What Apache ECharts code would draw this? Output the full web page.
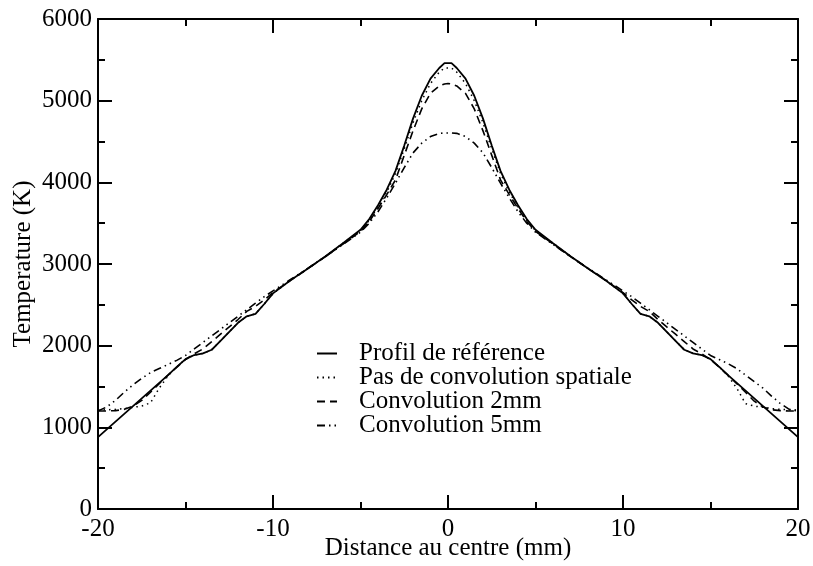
<!DOCTYPE html>
<html>
<head>
<meta charset="utf-8">
<script src="https://cdn.jsdelivr.net/npm/echarts@6/dist/echarts.min.js"></script>
<style>html,body{margin:0;padding:0;background:#fff}#c{width:813px;height:566px}</style>
</head>
<body>
<div id="c"></div>
<script>
var xs = [-20,-19.5,-19,-18.5,-18,-17.5,-17,-16.5,-16,-15.5,-15,-14.5,-14,-13.5,-13,-12.5,-12,-11.5,-11,-10.5,-10,-9,-8,-7,-6,-5,-4.5,-4,-3.5,-3,-2.5,-2,-1.5,-1,-0.5,-0.2,0,0.2,0.5,1,1.5,2,2.5,3,3.5,4,4.5,5,6,7,8,9,10,10.5,11,11.5,12,12.5,13,13.5,14,14.5,15,15.5,16,16.5,17,17.5,18,18.5,19,19.5,20];

var reference = [880,975,1070,1165,1260,1355,1450,1545,1640,1740,1835,1885,1905,1950,2060,2170,2280,2360,2390,2510,2640,2800,2945,3095,3255,3420,3550,3720,3910,4140,4450,4780,5060,5270,5400,5460,5460,5460,5400,5270,5060,4780,4450,4140,3910,3720,3550,3420,3255,3095,2945,2800,2640,2510,2390,2360,2280,2170,2060,1950,1905,1885,1835,1740,1640,1545,1450,1355,1260,1165,1070,975,880];

var noSpatial = [1210,1215,1220,1230,1245,1260,1300,1480,1630,1740,1835,1885,1905,1950,2060,2170,2280,2360,2390,2510,2640,2800,2945,3095,3255,3410,3535,3700,3880,4110,4410,4730,5000,5210,5350,5400,5400,5400,5350,5210,5000,4730,4410,4110,3880,3700,3535,3410,3255,3095,2945,2800,2640,2510,2390,2360,2280,2170,2060,1950,1905,1885,1835,1740,1630,1480,1290,1260,1245,1230,1220,1215,1210];

var conv2mm = [1200,1200,1205,1220,1260,1330,1430,1535,1640,1735,1830,1900,1960,2050,2140,2230,2320,2420,2480,2560,2650,2800,2945,3090,3245,3400,3520,3680,3850,4030,4330,4630,4900,5090,5180,5205,5210,5205,5180,5090,4900,4630,4330,4030,3850,3680,3520,3400,3245,3090,2945,2800,2650,2560,2480,2420,2320,2230,2140,2050,1960,1900,1830,1735,1640,1535,1430,1320,1250,1215,1205,1200,1200];

var conv5mm = [1200,1250,1330,1430,1520,1600,1670,1720,1770,1820,1880,1960,2040,2120,2200,2280,2360,2440,2520,2600,2670,2810,2950,3090,3240,3390,3500,3640,3810,3990,4180,4360,4480,4560,4600,4605,4605,4605,4600,4560,4480,4360,4180,3990,3810,3640,3500,3390,3240,3090,2950,2810,2670,2600,2520,2440,2360,2280,2200,2120,2040,1960,1880,1830,1780,1720,1640,1560,1480,1380,1290,1220,1200];

var seriesNames = ['Profil de référence','Pas de convolution spatiale','Convolution 2mm','Convolution 5mm'];
var xTicks = [-20,-10,0,10,20];
var yTicks = [0,1000,2000,3000,4000,5000,6000];

function pairs(ys){ return xs.map(function(x,i){ return [x, ys[i]]; }); }

var FONT = '"Liberation Serif", "DejaVu Serif", serif';
var FS = 25;
var chart = echarts.init(document.getElementById('c'), null, {renderer:'canvas'});

function axisCommon(showLabels, isX){
  return {
    type:'value',
    min: isX ? xTicks[0] : yTicks[0],
    max: isX ? xTicks[xTicks.length-1] : yTicks[yTicks.length-1],
    interval: isX ? 10 : 1000,
    axisLine:{show:true, onZero:false, lineStyle:{color:'#000', width:2}},
    axisTick:{show:true, inside:true, length:14, lineStyle:{color:'#000', width:2}},
    minorTick:{show:true, splitNumber:2, length:7, lineStyle:{color:'#000', width:2}},
    splitLine:{show:false},
    axisLabel:{show:showLabels, color:'#000', fontFamily:FONT, fontSize:FS, margin:isX ? 8 : 6,
      formatter:function(v){ return String(v); }}
  };
}

var xBottom = axisCommon(true, true);
xBottom.position = 'bottom';
xBottom.name = 'Distance au centre (mm)';
xBottom.nameLocation = 'middle';
xBottom.nameGap = 27;
xBottom.nameMoveOverlap = false;
xBottom.nameTextStyle = {color:'#000', fontFamily:FONT, fontSize:FS};
var xTop = axisCommon(false, true); xTop.position = 'top';

var yLeft = axisCommon(true, false);
yLeft.position = 'left';
yLeft.name = 'Temperature (K)';
yLeft.nameLocation = 'middle';
yLeft.nameGap = 62;
yLeft.nameMoveOverlap = false;
yLeft.nameTextStyle = {color:'#000', fontFamily:FONT, fontSize:FS};
var yRight = axisCommon(false, false); yRight.position = 'right';

var styles = [
  {type:'solid', width:1.8},
  {type:[1.5,4], width:1.5},
  {type:[8,5], width:1.6},
  {type:[8,4,1.5,4,1.5,4], width:1.6}
];
var datasets = [reference, noSpatial, conv2mm, conv5mm];

chart.setOption({
  animation:false,
  backgroundColor:'#fff',
  grid:{left:98, right:15, top:19, bottom:57, containLabel:false, outerBoundsMode:'none'},
  legend:{
    show:true, padding:0,
    orient:'vertical', left:316, top:341, itemWidth:20, itemHeight:12, itemGap:-1,
    itemStyle:{opacity:0},
    data: seriesNames,
    textStyle:{color:'#000', fontFamily:FONT, fontSize:FS, lineHeight:23, padding:[0,0,0,17]}
  },
  xAxis:[xBottom, xTop],
  yAxis:[yLeft, yRight],
  series: seriesNames.map(function(n,i){
    return {
      name:n, type:'line', xAxisIndex:0, yAxisIndex:0,
      data: pairs(datasets[i]), symbol:'none', showSymbol:false,
      lineStyle:{color:'#000', type:styles[i].type, width:styles[i].width},
      itemStyle:{color:'#000'}
    };
  })
});
</script>
</body>
</html>
